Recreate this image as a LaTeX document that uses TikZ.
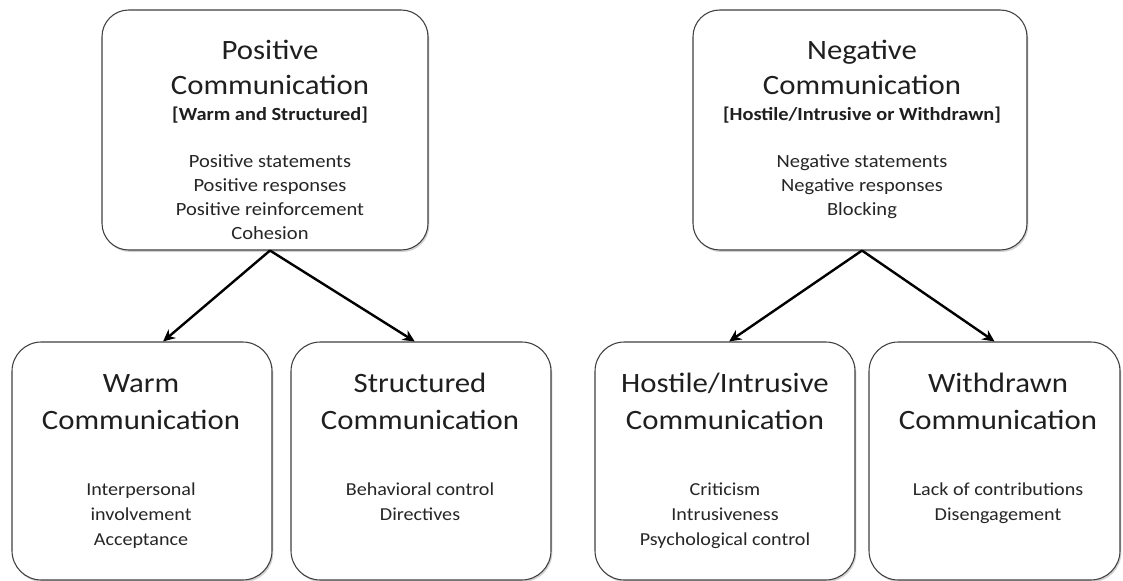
\documentclass[tikz,border=0pt]{standalone}
\usepackage{fontspec}
\setmainfont{Carlito}[FakeStretch=1.1]
\usetikzlibrary{arrows.meta, positioning, shadows}

\tikzset{
  box/.style={draw=black!75, line width=0.8pt, rounded corners=20pt, fill=white,
    drop shadow={shadow xshift=1pt, shadow yshift=-1.5pt, opacity=0.35}},
  lowbox/.style={box, rounded corners=22pt, minimum height=178.5pt},
  title/.style={align=center, anchor=base, inner sep=0pt, text=black!88,
    font=\fontsize{21}{26.25}\selectfont},
  lowtitle/.style={title, font=\fontsize{21}{27.75}\selectfont},
  subtitle/.style={anchor=base, inner sep=0pt, text=black!88,
    font=\bfseries\fontsize{13.9}{16}\selectfont},
  items/.style={align=center, anchor=base, inner sep=0pt, text=black!85,
    font=\fontsize{14}{18}\selectfont},
  lowitems/.style={align=center, anchor=base, inner sep=0pt, text=black!85,
    font=\fontsize{13.7}{18.75}\selectfont},
  branch/.style={line width=1.8pt, -{Stealth[length=9pt, width=8.5pt]}}
}

\begin{document}
\begin{tikzpicture}[x=0.75pt, y=-0.75pt]
\useasboundingbox (0,0) rectangle (1123,581);

% upper boxes
\node (pos) [box, minimum width=244.5pt, minimum height=180pt] at (265,130) {};
\node (neg) [box, minimum width=250.5pt, minimum height=180pt] at (860,130) {};

% lower boxes
\node (warm) [lowbox, minimum width=195pt] at (142,461) {};
\node (struct) [lowbox, minimum width=195pt] at (421,461) {};
\node (host) [lowbox, minimum width=195pt] at (725,461) {};
\node (withd) [lowbox, minimum width=188.25pt] at (994.5,461) {};

% texts, upper (anchor base = last line)
\node (posT) [title] at (270,95) {Positive\\Communication};
\node (posS) [subtitle] at (270,121) {[Warm and Structured]};
\node (posL) [items] at (270,239) {Positive statements\\Positive responses\\Positive reinforcement\\Cohesion};

\node (negT) [title] at (862,95) {Negative\\Communication};
\node (negS) [subtitle] at (862,121) {[Hostile/Intrusive or Withdrawn]};
\node (negL) [items] at (862,215) {Negative statements\\Negative responses\\Blocking};

% texts, lower
\node (warmT) [lowtitle] at (141,429) {Warm\\Communication};
\node (warmL) [lowitems] at (141,545) {Interpersonal\\involvement\\Acceptance};

\node (structT) [lowtitle] at (420,429) {Structured\\Communication};
\node (structL) [lowitems] at (420,520) {Behavioral control\\Directives};

\node (hostT) [lowtitle] at (725,429) {Hostile/Intrusive\\Communication};
\node (hostL) [lowitems] at (725,545) {Criticism\\Intrusiveness\\Psychological control};

\node (withdT) [lowtitle] at (998,429) {Withdrawn\\Communication};
\node (withdL) [lowitems] at (998,520) {Lack of contributions\\Disengagement};

% arrows
\draw[branch] (pos.south -| posL.south) -- (warm.80);
\draw[branch] (pos.south -| posL.south) -- (struct.93);
\draw[branch] (neg.south -| negL.south) -- (host.88);
\draw[branch] (neg.south -| negL.south) -- (withd.north);
\end{tikzpicture}
\end{document}
